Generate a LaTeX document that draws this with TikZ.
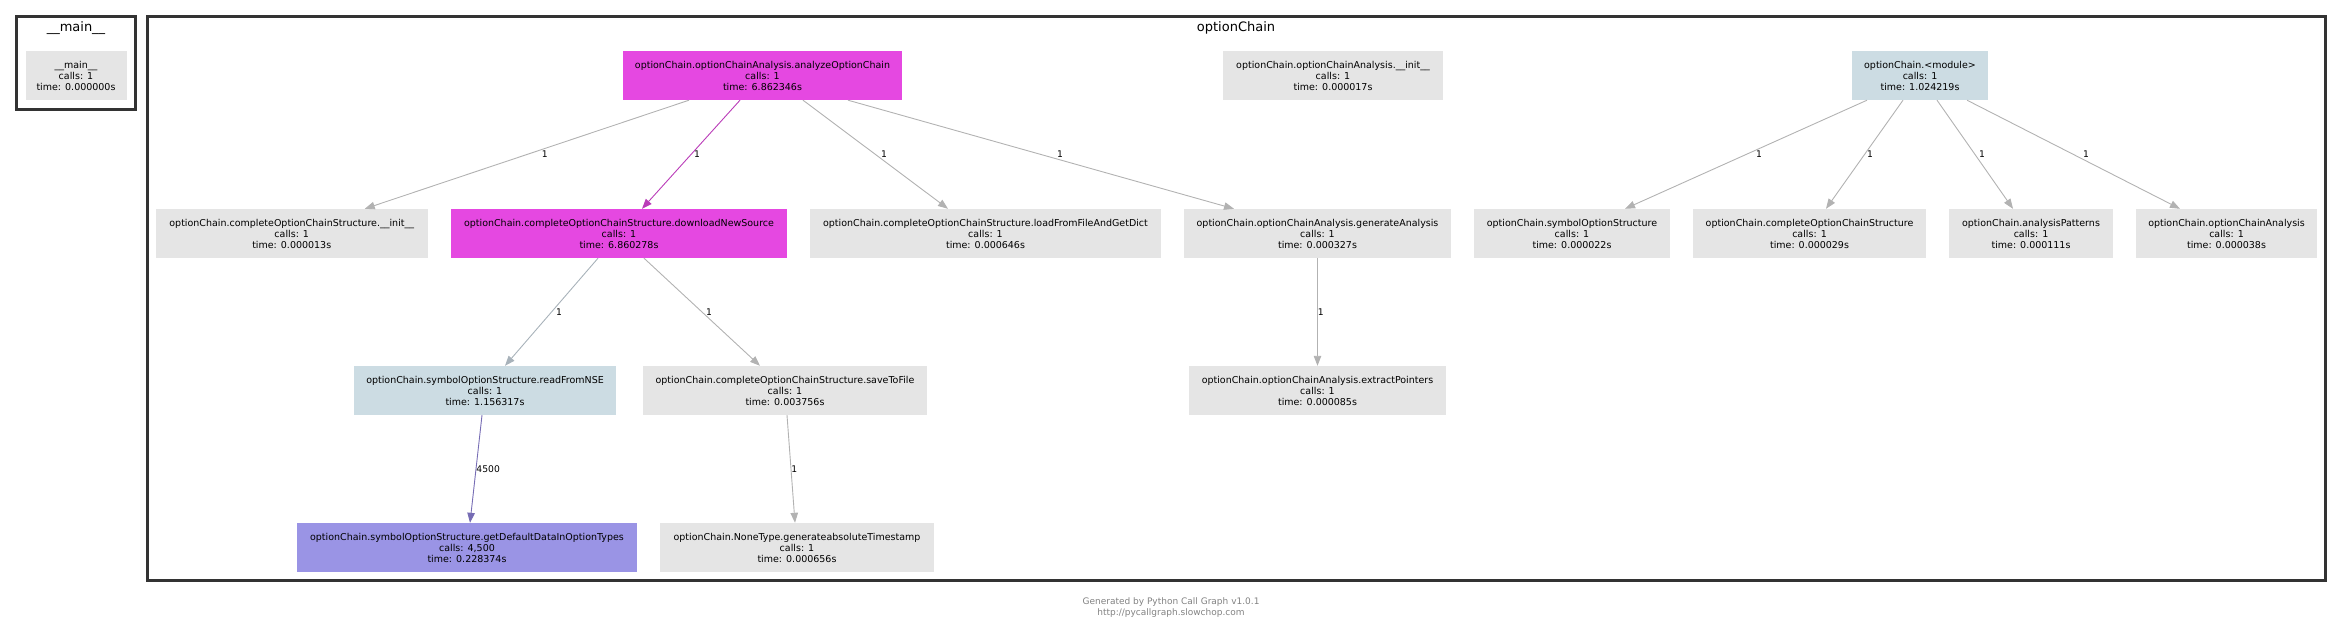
\documentclass[tikz,border=0pt]{standalone}
\usepackage{fontspec}
\setmainfont{DejaVu Sans}
\usetikzlibrary{arrows.meta}

\definecolor{hotfill}{RGB}{229,72,225}
\definecolor{warmfill}{RGB}{204,220,227}
\definecolor{coldfill}{RGB}{229,229,229}
\definecolor{purplefill}{RGB}{154,148,229}
\definecolor{edgegray}{RGB}{178,178,178}
\definecolor{edgehot}{RGB}{186,60,184}
\definecolor{edgeblue}{RGB}{168,178,186}
\definecolor{edgepurple}{RGB}{118,108,180}
\definecolor{framegray}{RGB}{51,51,51}
\definecolor{footgray}{RGB}{130,130,130}

\begin{document}
\begin{tikzpicture}[
    x=1pt, y=-1pt,
    fn/.style={rectangle, inner sep=0pt, minimum height=49pt, align=center,
               font=\fontsize{9.5}{11}\selectfont},
    cold/.style={fn, fill=coldfill},
    hot/.style={fn, fill=hotfill},
    warm/.style={fn, fill=warmfill},
    cool/.style={fn, fill=purplefill},
    grp/.style={draw=framegray, line width=2.6pt},
    grplbl/.style={font=\fontsize{13}{15}\selectfont},
    call/.style={-{Triangle[length=10pt, width=7.5pt]}, line width=0.9pt, draw=edgegray},
    lbl/.style={midway, inner sep=0pt, font=\fontsize{9.2}{11}\selectfont},
  ]
  \useasboundingbox (0,0) rectangle (2344,631);

  % ===== Groups =====
  \draw[grp] (16.5,16.5) rectangle (135.5,109.5);
  \node[grplbl] (maintitle) at (76,28) {\_\_main\_\_};

  \draw[grp] (147.5,16.5) rectangle (2325.5,580.5);
  \node[grplbl] (chaintitle) at (1236,28) {optionChain};

  % ===== Row 1 =====
  \node[cold, minimum width=101pt] (mainfn) at (76,75.5) {%
    \_\_main\_\_\\calls: 1\\time: 0.000000s};
  \node[hot, minimum width=279pt] (analyze) at (762.5,75.5) {%
    optionChain.optionChainAnalysis.analyzeOptionChain\\calls: 1\\time: 6.862346s};
  \node[cold, minimum width=219.5pt] (ainit) at (1333,75.5) {%
    optionChain.optionChainAnalysis.\_\_init\_\_\\calls: 1\\time: 0.000017s};
  \node[warm, minimum width=136pt] (module) at (1920,75.5) {%
    optionChain.<module>\\calls: 1\\time: 1.024219s};

  % ===== Row 2 =====
  \node[cold, minimum width=271.5pt] (cinit) at (291.75,233.5) {%
    optionChain.completeOptionChainStructure.\_\_init\_\_\\calls: 1\\time: 0.000013s};
  \node[hot, minimum width=336pt] (download) at (619,233.5) {%
    optionChain.completeOptionChainStructure.downloadNewSource\\calls: 1\\time: 6.860278s};
  \node[cold, minimum width=351pt] (loadfile) at (985.5,233.5) {%
    optionChain.completeOptionChainStructure.loadFromFileAndGetDict\\calls: 1\\time: 0.000646s};
  \node[cold, minimum width=267pt] (genanal) at (1317.5,233.5) {%
    optionChain.optionChainAnalysis.generateAnalysis\\calls: 1\\time: 0.000327s};
  \node[cold, minimum width=196pt] (symstruct) at (1572,233.5) {%
    optionChain.symbolOptionStructure\\calls: 1\\time: 0.000022s};
  \node[cold, minimum width=233pt] (cstruct) at (1809.5,233.5) {%
    optionChain.completeOptionChainStructure\\calls: 1\\time: 0.000029s};
  \node[cold, minimum width=164pt] (patterns) at (2031,233.5) {%
    optionChain.analysisPatterns\\calls: 1\\time: 0.000111s};
  \node[cold, minimum width=181pt] (chainanal) at (2226.5,233.5) {%
    optionChain.optionChainAnalysis\\calls: 1\\time: 0.000038s};

  % ===== Row 3 =====
  \node[warm, minimum width=262pt] (readnse) at (485,390.5) {%
    optionChain.symbolOptionStructure.readFromNSE\\calls: 1\\time: 1.156317s};
  \node[cold, minimum width=284pt] (savefile) at (785,390.5) {%
    optionChain.completeOptionChainStructure.saveToFile\\calls: 1\\time: 0.003756s};
  \node[cold, minimum width=257pt] (pointers) at (1317.5,390.5) {%
    optionChain.optionChainAnalysis.extractPointers\\calls: 1\\time: 0.000085s};

  % ===== Row 4 =====
  \node[cool, minimum width=340pt] (defaults) at (467,547.5) {%
    optionChain.symbolOptionStructure.getDefaultDataInOptionTypes\\calls: 4,500\\time: 0.228374s};
  \node[cold, minimum width=274pt] (stamp) at (797,547.5) {%
    optionChain.NoneType.generateabsoluteTimestamp\\calls: 1\\time: 0.000656s};

  % ===== Calls =====
  \draw[call] ([xshift=-73.5pt]analyze.south) -- node[lbl, xshift=18pt]{1} ([xshift=73pt]cinit.north);
  \draw[call, draw=edgehot] ([xshift=-22.5pt]analyze.south) -- node[lbl, xshift=6pt]{1} ([xshift=23pt]download.north);
  \draw[call] ([xshift=40.5pt]analyze.south) -- node[lbl, xshift=8.5pt]{1} ([xshift=-37.5pt]loadfile.north);
  \draw[call] ([xshift=85.5pt]analyze.south) -- node[lbl, xshift=19pt]{1} ([xshift=-83.5pt]genanal.north);

  \draw[call] ([xshift=-53pt]module.south) -- node[lbl, xshift=13pt]{1} ([xshift=53pt]symstruct.north);
  \draw[call] ([xshift=-17pt]module.south) -- node[lbl, xshift=5.5pt]{1} ([xshift=16.5pt]cstruct.north);
  \draw[call] ([xshift=17pt]module.south) -- node[lbl, xshift=7pt]{1} ([xshift=-18pt]patterns.north);
  \draw[call] ([xshift=47pt]module.south) -- node[lbl, xshift=12.5pt]{1} ([xshift=-46.5pt]chainanal.north);

  \draw[call, draw=edgeblue] ([xshift=-21pt]download.south) -- node[lbl, xshift=7.5pt]{1} ([xshift=20pt]readnse.north);
  \draw[call] ([xshift=25pt]download.south) -- node[lbl, xshift=7pt]{1} ([xshift=-25pt]savefile.north);
  \draw[call] (genanal.south) -- node[lbl, anchor=west]{1} (pointers.north);

  \draw[call, draw=edgepurple] ([xshift=-3pt]readnse.south) -- node[lbl, anchor=west]{4500} ([xshift=3pt]defaults.north);
  \draw[call] ([xshift=2pt]savefile.south) -- node[lbl, anchor=west]{1} ([xshift=-2pt]stamp.north);

  % footer
  \node[text=footgray, align=center, font=\fontsize{9}{11}\selectfont] (footer) at (1171,608) {%
    Generated by Python Call Graph v1.0.1\\http://pycallgraph.slowchop.com};

\end{tikzpicture}
\end{document}
